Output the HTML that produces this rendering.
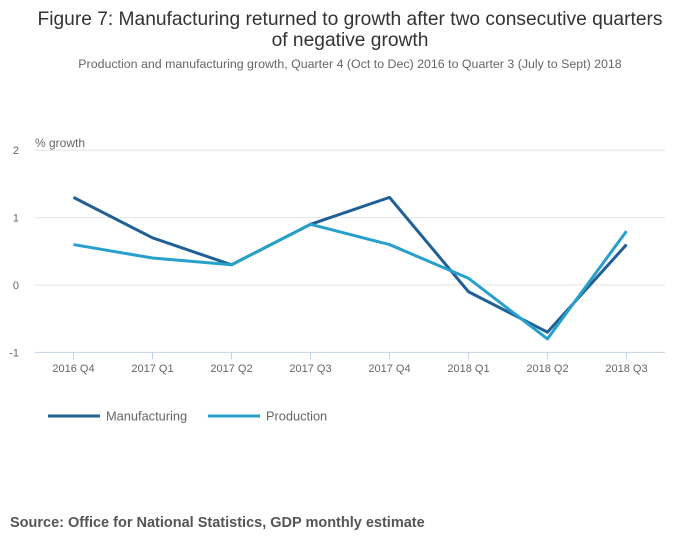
<!DOCTYPE html>
<html><head><meta charset="utf-8"><style>
body{margin:0;background:#fff;font-family:"Liberation Sans",sans-serif;}
svg text{font-family:"Liberation Sans",sans-serif;}
</style></head><body>
<svg width="700" height="549">
<text x="350" y="25" text-anchor="middle" font-size="19.2" fill="#333">Figure 7: Manufacturing returned to growth after two consecutive quarters</text>
<text x="350" y="46" text-anchor="middle" font-size="19.2" fill="#333">of negative growth</text>
<text x="350" y="68" text-anchor="middle" font-size="12.4" fill="#666">Production and manufacturing growth, Quarter 4 (Oct to Dec) 2016 to Quarter 3 (July to Sept) 2018</text>
<text x="35" y="147" font-size="12" fill="#666">% growth</text>
<g id="grid"></g><g id="xaxis"></g><g id="lines"></g>
<g>
<line x1="48" y1="416" x2="100" y2="416" stroke="#206095" stroke-width="3"/>
<text x="106" y="420.5" font-size="12.8" fill="#666">Manufacturing</text>
<line x1="208" y1="416" x2="260" y2="416" stroke="#27a0cc" stroke-width="3"/>
<text x="266" y="420.5" font-size="12.8" fill="#666">Production</text>
</g>
<text x="10" y="527" font-size="14.5" font-weight="bold" fill="#555">Source: Office for National Statistics, GDP monthly estimate</text>
</svg>
<script>
const categories=["2016 Q4","2017 Q1","2017 Q2","2017 Q3","2017 Q4","2018 Q1","2018 Q2","2018 Q3"];
const manufacturing=[1.3,0.7,0.3,0.9,1.3,-0.1,-0.7,0.6];
const production=[0.6,0.4,0.3,0.9,0.6,0.1,-0.8,0.8];
const yTicks=[2,1,0,-1];
const NS="http://www.w3.org/2000/svg";
function x(i){return 73.5+i*79;}
function y(v){return 285-v*67.4;}
function mk(t,a,p){const e=document.createElementNS(NS,t);for(const k in a)e.setAttribute(k,a[k]);p.appendChild(e);return e;}
const grid=document.getElementById('grid');
yTicks.forEach(v=>{
 const l=mk('line',{x1:35,x2:665,y1:y(v),y2:y(v),stroke:v===-1?'#c5d5e8':'#e4e4e4','stroke-width':1},grid);
 
 
 const t=mk('text',{x:19,y:y(v)+4,'text-anchor':'end','font-size':11,fill:'#666'},grid);
 t.textContent=v;
 
 
});
const xa=document.getElementById('xaxis');
categories.forEach((c,i)=>{
 const l=mk('line',{x1:x(i),x2:x(i),y1:y(-1),y2:y(-1)+7,stroke:'#c5d5e8'},xa);
 
 
 const t=mk('text',{x:x(i),y:372,'text-anchor':'middle','font-size':11,fill:'#666'},xa);
 t.textContent=c;
 
 
});
const lines=document.getElementById('lines');
function series(d,col,name){
 const p=mk('polyline',{points:d.map((v,i)=>x(i)+','+y(v)).join(' '),fill:'none',stroke:col,'stroke-width':3,'stroke-linejoin':'round'},lines);
 
 
}
series(manufacturing,'#206095','manufacturing-line');
series(production,'#27a0cc','production-line');
</script>
</body></html>
